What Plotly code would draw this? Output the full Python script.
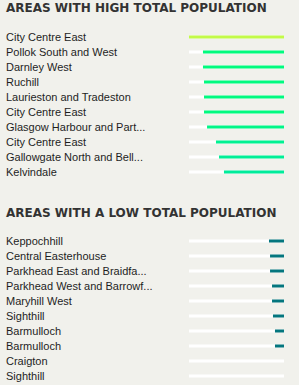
import plotly.graph_objects as go
from plotly.subplots import make_subplots

high_labels = ["City Centre East", "Pollok South and West", "Darnley West", "Ruchill",
               "Laurieston and Tradeston", "City Centre East", "Glasgow Harbour and Part...",
               "City Centre East", "Gallowgate North and Bell...", "Kelvindale"]
high_values = [100, 85.3, 85.3, 84.2, 84.2, 84.2, 81.0, 71.6, 68.4, 63.2]
high_colors = ["#c2fa48", "#00fb7e", "#00fb7e", "#00fa80", "#00fa80", "#00fa80",
               "#00f687", "#00f192", "#00ef96", "#00ec9b"]

low_labels = ["Keppochhill", "Central Easterhouse", "Parkhead East and Braidfa...",
              "Parkhead West and Barrowf...", "Maryhill West", "Sighthill", "Barmulloch",
              "Barmulloch", "Craigton", "Sighthill"]
low_values = [15.8, 14.7, 14.7, 12.6, 12.6, 11.6, 9.5, 9.5, 0, 0]
low_color = "#04767e"

titles = ["AREAS WITH HIGH TOTAL POPULATION", "AREAS WITH A LOW TOTAL POPULATION"]
max_value = 100
bg = "#f1f1ec"

W, H = 299, 385
fig = go.Figure()

panels = [
    (high_labels, high_values, high_colors, "x", "y", [0.5338, 0.9234], 8.5),
    (low_labels, low_values, [low_color] * len(low_values), "x2", "y2", [0.0039, 0.3935], 212.5),
]

for k, (labels, values, colors, xa, ya, dom, ty) in enumerate(panels):
    idx = list(range(len(labels)))
    fig.add_trace(go.Bar(x=[max_value] * len(idx), y=idx, orientation="h",
                         marker=dict(color="white", line=dict(width=0)), width=0.2,
                         xaxis=xa, yaxis=ya, hoverinfo="skip", showlegend=False))
    fig.add_trace(go.Bar(x=values, y=idx, orientation="h",
                         marker=dict(color=colors, line=dict(width=0)), width=0.2,
                         xaxis=xa, yaxis=ya, showlegend=False))
    for i, lab in enumerate(labels):
        fig.add_annotation(x=0.0134, xref="paper", y=i, yref=ya, text=lab,
                           xanchor="left", yanchor="middle", showarrow=False,
                           font=dict(family="Liberation Sans", size=11, color="#1e1e1e"))
    fig.add_annotation(x=0.0134, xref="paper", y=1 - ty / H, yref="paper", text=titles[k],
                       xanchor="left", yanchor="middle", showarrow=False,
                       font=dict(family="DejaVu Sans", size=12, color="#333333", weight="bold"))
    lay_x = "xaxis" if xa == "x" else "xaxis2"
    lay_y = "yaxis" if ya == "y" else "yaxis2"
    fig.update_layout(**{
        lay_x: dict(domain=[189 / W, 284 / W], range=[max_value, 0], visible=False,
                    fixedrange=True),
        lay_y: dict(domain=dom, range=[len(idx) - 0.5, -0.5], visible=False,
                    fixedrange=True, anchor=xa),
    })
    fig.layout[lay_x].anchor = ya

fig.update_layout(width=W, height=H, margin=dict(l=0, r=0, t=0, b=0),
                  barmode="overlay", paper_bgcolor=bg, plot_bgcolor=bg,
                  showlegend=False)

fig.write_html("out.html", config={"displayModeBar": False})
